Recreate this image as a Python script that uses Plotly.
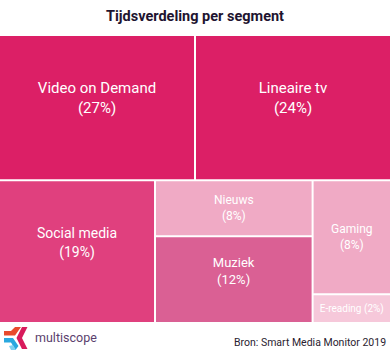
import plotly.graph_objects as go

# ---- data ----
segments = ["Video on Demand", "Lineaire tv", "Social media", "Nieuws", "Muziek", "Gaming", "E-reading"]
percent_labels = [27, 24, 19, 8, 12, 8, 2]
# tile areas (share of total area)
tile_share = [25.2, 25.2, 19.7, 7.8, 12.1, 7.9, 2.0]
segment_group = ["top", "top", "bottom", "mid", "mid", "right", "right"]

seg_colors = ["#DC1F66", "#DC1F66", "#E0407E", "#F0AAC5", "#DA6094", "#F0AAC5", "#F6C8DA"]
seg_font_sizes = [15, 15, 14, 12, 13, 12, 10]
# big tiles carry their label a little above the centre
raise_label = [True, True, True, False, True, False, False]

title_text = "Tijdsverdeling per segment"
source_text = "Bron: Smart Media Monitor 2019"
brand_text = "multiscope"

# ---- build hierarchy ----
ids, parents, labels, values, colors, texts, fsizes = [], [], [], [], [], [], []


def add_group(g, p):
    ids.append(g); parents.append(p); labels.append(g); values.append(0)
    colors.append("#FFFFFF"); texts.append(""); fsizes.append(10)


def add_seg(i):
    ids.append(segments[i]); parents.append(segment_group[i]); labels.append(segments[i])
    values.append(tile_share[i]); colors.append(seg_colors[i])
    if segments[i] == "E-reading":
        t = f"{segments[i]} ({percent_labels[i]}%)"
    else:
        t = f"{segments[i]}<br>({percent_labels[i]}%)"
    if raise_label[i]:
        t += "<br>\u00a0"
    texts.append(t)
    fsizes.append(seg_font_sizes[i])


add_group("top", "")
add_seg(0); add_seg(1)
add_group("bottom", "")
add_seg(2)
add_group("mid", "bottom")
add_seg(3); add_seg(4)
add_group("right", "bottom")
add_seg(5); add_seg(6)

fig = go.Figure(go.Treemap(
    ids=ids, parents=parents, labels=labels, values=values,
    branchvalues="remainder", sort=False,
    text=texts, textinfo="text",
    textposition="middle center",
    textfont=dict(family="Roboto, sans-serif", color="white", size=fsizes),
    marker=dict(colors=colors, line=dict(width=0, color="white"),
                pad=dict(t=0, l=0, r=0, b=0)),
    tiling=dict(packing="dice-slice", pad=2),
    pathbar=dict(visible=False),
    hoverinfo="skip",
    domain=dict(x=[0, 1], y=[0, 1]),
))

W, H = 390, 361
mt, mb = 36, 39
ph = H - mt - mb


def px(x):
    return x / W


def py(y):
    return (H - mb - y) / ph


def path(points):
    return "M " + " L ".join(f"{px(x):.4f},{py(y):.4f}" for x, y in points) + " Z"


logo_parts = [
    ([(4, 331), (11, 331), (15, 327), (21, 327), (15, 335.5), (4, 335.5)], "#E84A2C"),
    ([(22, 327), (27.5, 327), (22, 338), (27.5, 349), (22, 349), (16.5, 338)], "#D81B5C"),
    ([(4, 338), (13, 338), (18.5, 346), (15.5, 350), (11, 342.5), (4, 342.5)], "#29A8DF"),
    ([(13, 345), (16, 350), (11, 350), (9, 346)], "#7FD0F0"),
]
shapes = [dict(type="path", xref="paper", yref="paper", path=path(pts),
               fillcolor=c, line=dict(width=0)) for pts, c in logo_parts]

fig.update_layout(
    width=W, height=H,
    margin=dict(l=0, r=0, t=mt, b=mb),
    paper_bgcolor="white",
    title=dict(text=f"<b>{title_text}</b>", x=0.5, xanchor="center",
               yref="container", y=1 - 16 / H, yanchor="middle",
               font=dict(family="Roboto, sans-serif", size=14.5, color="#1E1430")),
    shapes=shapes,
    annotations=[
        dict(text=source_text, xref="paper", yref="paper", x=px(388), y=py(342),
             xanchor="right", yanchor="middle", showarrow=False,
             font=dict(family="Roboto, sans-serif", size=10.5, color="#2A2230")),
        dict(text=brand_text, xref="paper", yref="paper", x=px(33), y=py(337),
             xanchor="left", yanchor="middle", showarrow=False,
             font=dict(family="Roboto, sans-serif", size=12.5, color="#5B3F6E")),
    ],
)

fig.write_html("out.html", config={"displayModeBar": False},
               post_script="document.body.style.margin='0';document.body.style.overflow='hidden';")
